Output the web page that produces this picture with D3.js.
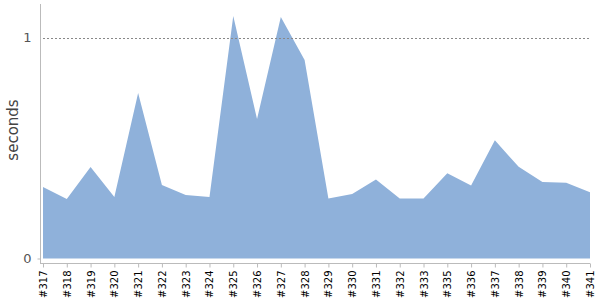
<!DOCTYPE html>
<html>
<head>
<meta charset="utf-8">
<script src="https://cdn.jsdelivr.net/npm/d3@7"></script>
<style>
  body { margin: 0; background: #fff; }
  svg { display: block; font-family: "DejaVu Sans", sans-serif; }
</style>
</head>
<body>
<svg id="chart" width="600" height="300"></svg>
<script>
"use strict";

// builds (note: #334 is missing in the source)
const builds = [
  "#317", "#318", "#319", "#320", "#321", "#322", "#323", "#324",
  "#325", "#326", "#327", "#328", "#329", "#330", "#331", "#332",
  "#333", "#335", "#336", "#337", "#338", "#339", "#340", "#341",
];

// duration in seconds
const durations = [
  0.324, 0.269, 0.414, 0.278, 0.749, 0.333, 0.287, 0.278,
  1.097, 0.631, 1.093, 0.898, 0.271, 0.292, 0.358, 0.271,
  0.271, 0.386, 0.330, 0.535, 0.415, 0.346, 0.343, 0.300,
];

const yTicks = [0, 1];

const svg = d3.select("#chart");

const x = d3.scalePoint().domain(builds).range([43, 590]);
const y = d3
  .scaleLinear()
  .domain([0, d3.max(durations) * 1.05])
  .range([258.5, 4]);

const rows = builds.map((b, i) => ({ build: b, value: durations[i] }));

// area
const area = d3
  .area()
  .x((d) => x(d.build))
  .y0(y(0))
  .y1((d) => y(d.value));

svg
  .append("path")
  .datum(rows)
  .attr("d", area)
  .attr("fill", "#8fb1da");

// dashed grid line at 1
svg
  .append("g")
  .selectAll("line")
  .data(yTicks.filter((t) => t > 0))
  .enter()
  .append("line")
  .attr("x1", 43)
  .attr("x2", 590)
  .attr("y1", (d) => Math.round(y(d)) + 0.5)
  .attr("y2", (d) => Math.round(y(d)) + 0.5)
  .attr("stroke", "#888")
  .attr("stroke-dasharray", "2,2");

// y axis
const yAxis = svg
  .append("g")
  .attr("transform", "translate(40.5,0)")
  .attr("font-family", "DejaVu Sans")
  .call(d3.axisLeft(y).tickValues(yTicks).tickFormat(d3.format("d")).tickSize(3).tickPadding(6));
yAxis.attr("font-family", "DejaVu Sans");
yAxis.select(".domain").attr("d", "M0,4V263").attr("stroke", "#bbb");
yAxis.selectAll(".tick line").attr("stroke", "#bbb");
yAxis.selectAll(".tick text").attr("fill", "#555").attr("font-size", 13);
yAxis.selectAll(".tick").filter((d) => d > 0).select("line").remove();

// x axis
const xAxis = svg
  .append("g")
  .attr("transform", "translate(0,263.5)")
  .call(d3.axisBottom(x).tickSize(4).tickSizeOuter(0));
xAxis.attr("font-family", "DejaVu Sans");
xAxis.select(".domain").attr("d", "M40,0H590").attr("stroke", "#bbb");
xAxis.selectAll(".tick line").attr("stroke", "#bbb");
xAxis
  .selectAll(".tick text")
  .attr("transform", "rotate(-90)")
  .attr("text-anchor", "end")
  .attr("x", -7)
  .attr("y", 0)
  .attr("dy", "0.35em")
  .attr("font-size", 10)
  .attr("fill", "#000");

// y label
svg
  .append("text")
  .attr("transform", "translate(18,130) rotate(-90)")
  .attr("text-anchor", "middle")
  .attr("font-family", "DejaVu Sans")
  .attr("font-size", 15)
  .attr("fill", "#444")
  .text("seconds");
</script>
</body>
</html>
